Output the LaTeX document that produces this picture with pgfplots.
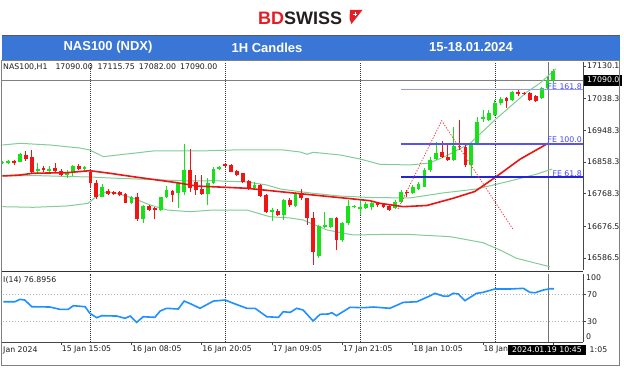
\documentclass[border=0pt]{standalone}
\usepackage{pgfplots}
\pgfplotsset{compat=1.18}
\usepackage{pgfplotstable}
\usepackage{fontspec}
\setmainfont{Liberation Sans}
\newfontfamily\mt{DejaVu Sans}
\definecolor{cg}{RGB}{25,225,25}
\definecolor{cr}{RGB}{240,20,20}
\definecolor{bb}{RGB}{130,205,150}
\definecolor{ma}{RGB}{235,20,20}
\definecolor{hdr}{RGB}{58,118,214}
\definecolor{rsi}{RGB}{30,144,255}
\definecolor{feA}{RGB}{150,150,255}
\definecolor{feB}{RGB}{85,85,235}
\definecolor{feC}{RGB}{35,35,215}
\definecolor{fetxt}{RGB}{70,70,255}
\definecolor{bdred}{RGB}{227,30,36}
\definecolor{logodark}{RGB}{35,31,32}
\definecolor{axisgrey}{RGB}{70,70,70}
\definecolor{labelc}{RGB}{30,30,30}
\definecolor{sepc}{RGB}{50,50,50}

\pgfplotstableread{
x o h l c
0 16854.1 16861.2 16852.7 16858.3
1 16854.7 16864.0 16852.7 16862.0
3 16859.2 16884.7 16858.3 16881.0
6 16833.7 16856.4 16826.4 16839.4
8 16833.7 16847.0 16826.4 16839.4
11 16821.5 16835.7 16812.2 16826.4
12 16826.4 16849.9 16818.7 16847.0
14 16839.4 16847.0 16833.7 16843.3
17 16760.2 16796.1 16758.5 16788.4
22 16741.4 16762.0 16739.4 16760.2
24 16696.1 16736.6 16686.4 16733.8
27 16722.4 16759.2 16720.5 16758.4
28 16758.4 16790.2 16755.6 16779.1
30 16771.7 16801.7 16727.2 16798.0
31 16772.6 16909.3 16764.9 16835.7
35 16767.7 16812.2 16736.6 16798.0
36 16798.0 16845.0 16796.1 16837.7
37 16837.7 16847.0 16835.7 16845.0
43 16783.9 16802.6 16779.1 16793.3
46 16715.9 16727.2 16692.1 16722.4
48 16708.3 16753.6 16694.1 16750.8
50 16733.8 16773.4 16731.8 16771.4
54 16592.3 16680.0 16586.6 16677.2
55 16675.3 16717.6 16670.8 16680.0
56 16675.3 16699.8 16670.8 16699.0
58 16637.5 16689.3 16632.7 16684.8
59 16684.8 16750.8 16680.0 16733.8
60 16730.1 16736.6 16727.2 16733.8
61 16724.4 16750.8 16708.3 16730.1
62 16727.2 16746.0 16724.4 16739.4
63 16731.8 16746.0 16722.4 16741.4
67 16727.2 16750.8 16725.3 16746.0
68 16746.0 16779.1 16741.4 16774.3
70 16769.7 16793.3 16767.7 16786.7
71 16781.1 16802.6 16779.1 16796.1
72 16788.4 16840.5 16786.7 16835.7
73 16835.7 16871.6 16830.9 16864.0
74 16866.0 16915.8 16864.0 16884.7
77 16864.0 16956.6 16862.0 16903.6
80 16849.9 16912.1 16816.7 16909.3
81 16911.2 16986.6 16909.3 16972.4
82 16980.0 17005.6 16971.6 16987.1
83 16977.2 17005.6 16974.4 16997.0
84 16990.0 17033.9 16988.5 17026.2
85 17024.5 17042.4 17019.5 17036.7
87 17033.9 17059.4 17031.1 17055.1
92 17038.7 17069.2 17036.7 17066.9
93 17066.9 17098.9 17064.1 17090.5
94 17089.1 17122.0 17082.0 17115.9
}\greenc

\pgfplotstableread{
x o h l c
2 16862.0 16864.0 16850.7 16856.4
4 16878.2 16890.3 16862.0 16866.0
5 16873.3 16892.3 16826.4 16830.9
7 16840.5 16847.0 16830.9 16835.7
9 16840.5 16854.7 16830.9 16833.7
10 16833.7 16837.7 16818.7 16821.5
13 16847.0 16852.7 16835.7 16837.7
15 16830.9 16835.7 16788.4 16798.0
16 16799.7 16807.4 16754.5 16758.5
18 16776.3 16781.9 16764.9 16767.7
19 16772.6 16776.3 16764.0 16766.9
20 16772.6 16777.1 16762.0 16764.9
21 16767.7 16769.7 16741.4 16743.1
23 16760.2 16769.7 16692.1 16696.1
25 16733.8 16736.6 16718.3 16723.1
26 16727.2 16731.8 16696.1 16721.2
29 16777.1 16779.1 16746.0 16764.9
32 16835.7 16895.1 16773.4 16784.8
33 16801.7 16820.6 16764.9 16779.1
34 16781.1 16820.6 16764.9 16767.7
38 16852.7 16856.4 16843.3 16847.0
39 16849.9 16852.7 16829.2 16830.9
40 16833.7 16835.7 16818.7 16821.5
41 16826.4 16828.1 16798.0 16802.6
42 16805.4 16807.4 16779.1 16781.1
44 16793.3 16796.1 16759.2 16762.0
45 16764.9 16767.7 16713.0 16717.6
47 16720.5 16725.2 16705.5 16708.3
49 16750.8 16755.6 16731.8 16736.6
51 16771.4 16781.1 16750.8 16755.6
52 16755.6 16756.4 16680.0 16699.0
53 16699.0 16717.6 16566.8 16604.5
57 16699.0 16703.5 16609.2 16637.5
64 16743.1 16746.0 16731.8 16737.5
65 16741.4 16743.1 16728.9 16730.1
66 16733.8 16736.6 16718.3 16722.4
69 16774.3 16779.1 16760.2 16769.7
75 16887.5 16918.6 16868.8 16871.6
76 16871.6 16906.4 16862.0 16864.0
78 16903.6 16977.2 16892.3 16899.8
79 16899.8 16909.3 16845.0 16849.9
86 17038.1 17042.4 17011.2 17031.9
88 17055.7 17060.8 17043.8 17050.8
89 17053.7 17056.5 17048.0 17050.8
90 17052.8 17055.1 17031.1 17033.9
91 17045.2 17048.0 17028.2 17031.9
}\redc

\begin{document}
\begin{tikzpicture}[x=1pt,y=1pt]
\fill[white] (0,0) rectangle (624,371);
% header bar
\fill[hdr] (1.5,311) rectangle (620,336);
\draw[gray!70!black, line width=0.6pt] (1.5,336) -- (620,336);
\node[font=\fontsize{13}{15}\selectfont\bfseries, text=white] at (108,323.5) {NAS100 (NDX)};
\node[font=\fontsize{13}{15}\selectfont\bfseries, text=white] at (267,323.5) {1H Candles};
\node[font=\fontsize{13}{15}\selectfont\bfseries, text=white] at (471,323.5) {15-18.01.2024};
% logo
\node[anchor=west, font=\fontsize{18}{20}\selectfont\bfseries, inner sep=0pt] at (258,353) {\textcolor{bdred}{BD}\textcolor{logodark}{SWISS}};
\fill[bdred] (350,361) -- (362.5,361) -- (351.5,347) -- (349.5,352) -- cycle;
\fill[white] (353.2,356.2) rectangle (357.2,357.4);
\fill[white] (354.6,354.8) rectangle (355.8,358.8);

% main price panel
\begin{axis}[
  at={(2pt,101pt)}, anchor=south west, scale only axis,
  width=581pt, height=208pt,
  xmin=-0.085, xmax=99.06, ymin=16552.6, ymax=17141.4,
  axis x line*=bottom, axis y line*=right,
  x axis line style={draw=none}, xtick=\empty,
  y axis line style={draw=axisgrey, line width=0.8pt},
  scaled y ticks=false,
  ytick={17130.1,17038.3,16948.3,16858.3,16768.3,16676.5,16586.5},
  yticklabels={17130.1,17038.3,16948.3,16858.3,16768.3,16676.5,16586.5},
  tick align=outside, major tick length=3pt,
  ytick style={draw=axisgrey, line width=0.6pt},
  yticklabel style={font=\mt\fontsize{7.8}{9}\selectfont, text=labelc, anchor=west, inner sep=0pt, xshift=1pt},
  extra y ticks={17090}, extra y tick labels={17090.0},
  extra y tick style={yticklabel style={fill=black, text=white, inner xsep=3pt, inner ysep=2.5pt, xshift=-3pt}},
  clip=true,
]
% separators
\addplot[sepc, line width=0.9pt, dash pattern=on 1pt off 1pt] coordinates {(14.93,16552.6) (14.93,17141.4)};
\addplot[sepc, line width=0.9pt, dash pattern=on 1pt off 1pt] coordinates {(37.97,16552.6) (37.97,17141.4)};
\addplot[sepc, line width=0.9pt, dash pattern=on 1pt off 1pt] coordinates {(61.0,16552.6) (61.0,17141.4)};
\addplot[sepc, line width=0.9pt, dash pattern=on 1pt off 1pt] coordinates {(84.2,16552.6) (84.2,17141.4)};
% bid line and crosshair
\addplot[gray, line width=0.8pt] coordinates {(-1,17090) (100,17090)};
\addplot[gray!90!black, line width=1pt] coordinates {(93.1,16552.6) (93.1,17141.4)};
% Bollinger bands
\addplot[bb, line width=1pt] coordinates {(0,16906.4) (3,16911.2) (8.1,16906.4) (13.2,16897.9) (14.9,16892.3) (17.2,16873.3) (19.7,16878.2) (22.3,16883.0) (25.7,16889.5) (33.7,16889.5) (39.3,16892.3) (47.9,16892.3) (50.8,16886.6) (52,16880.1) (53,16885.8) (57.6,16878.2) (61,16866.9) (64.4,16851.8) (69.5,16849.9) (72.9,16855.5) (75.7,16875.3) (79.8,16911.2) (84.4,16982.9) (89.5,17056.5) (91.7,17081.1) (94.4,17121.6)};
\addplot[bb, line width=1pt] coordinates {(0,16818.7) (5.2,16820.1) (11,16817.3) (14.9,16815.9) (18.3,16813.1) (25.2,16808.8) (32,16804.5) (35.9,16805.4) (41.7,16801.7) (45.1,16793.3) (47.4,16781.9) (50.8,16774.3) (53,16769.7) (57.6,16762.0) (62.7,16757.8) (69.5,16756.4) (75.1,16770.6) (80.9,16781.9) (86.6,16804.5) (91.2,16824.3) (93.8,16838.5)};
\addplot[bb, line width=1pt] coordinates {(0,16731.8) (5.2,16730.1) (11,16733.8) (14.6,16741.4) (16.1,16762.0) (17.8,16774.3) (19.5,16769.7) (22.3,16755.6) (25.2,16736.6) (28.1,16722.4) (32,16717.6) (35.9,16722.4) (41.7,16722.4) (45.6,16703.5) (49.1,16699.8) (51.3,16694.1) (55.4,16665.8) (59.8,16651.7) (64.4,16653.1) (69.5,16653.1) (76.4,16646.9) (82,16629.9) (84.9,16609.2) (87.7,16585.7) (93.4,16561.9)};
% candles: wicks
\addplot[cg, line width=0.9pt, quiver={u=0, v=\thisrow{h}-\thisrow{l}}] table[x=x, y=l] {\greenc};
\addplot[cr, line width=0.9pt, quiver={u=0, v=\thisrow{h}-\thisrow{l}}] table[x=x, y=l] {\redc};
% candles: bodies
\addplot[cg, line width=3.8pt, quiver={u=0, v=\thisrow{c}-\thisrow{o}}] table[x=x, y=o] {\greenc};
\addplot[cr, line width=3.8pt, quiver={u=0, v=\thisrow{c}-\thisrow{o}}] table[x=x, y=o] {\redc};
% moving average
\addplot[ma, line width=1.6pt] coordinates {(0,16818.7) (3,16821.5) (5.2,16826.4) (11,16828.1) (14.9,16833.7) (18.3,16826.4) (22.3,16816.7) (26.4,16807.4) (29.8,16799.7) (33.1,16790.2) (35.9,16788.3) (41.7,16783.9) (47.4,16774.3) (53,16764.9) (58.7,16755.6) (62.7,16748.8) (64.4,16741.4) (68.4,16731.8) (72.4,16735.2) (76.9,16755.6) (80.6,16774.8) (84.3,16817.3) (88.3,16866.0) (93.1,16911.3)};
% Fibonacci expansion
\addplot[feA, line width=1pt] coordinates {(68,17062.2) (100,17062.2)};
\addplot[feB, line width=2pt] coordinates {(68,16910.0) (100,16910.0)};
\addplot[feC, line width=1.2pt] coordinates {(68,16815.7) (100,16815.7)};
\addplot[cr!80!white, line width=0.8pt, dash pattern=on 1.3pt off 1.5pt] coordinates {(67.5,16725.3) (74.95,16975.3) (87.2,16665.8)};
\node[anchor=base east, font=\mt\fontsize{7.8}{9}\selectfont, text=fetxt, inner sep=0pt] at (axis cs:98.9,17063.0) {FE 161.8};
\node[anchor=base east, font=\mt\fontsize{7.8}{9}\selectfont, text=fetxt, inner sep=0pt] at (axis cs:98.9,16912.3) {FE 100.0};
\node[anchor=base east, font=\mt\fontsize{7.8}{9}\selectfont, text=fetxt, inner sep=0pt] at (axis cs:98.9,16817.0) {FE 61.8};
\end{axis}

% panel separator
\draw[sepc, line width=1.5pt] (2,99.5) -- (583,99.5);

% RSI panel
\begin{axis}[
  at={(2pt,28.8pt)}, anchor=south west, scale only axis,
  width=581pt, height=68.45pt,
  xmin=-0.085, xmax=99.06, ymin=0, ymax=100,
  axis x line*=bottom, axis y line*=right,
  axis line style={draw=axisgrey, line width=0.8pt},
  tick align=outside, major tick length=3pt,
  tick style={draw=axisgrey, line width=0.6pt},
  ytick={70,30}, yticklabels={70,30},
  yticklabel style={font=\mt\fontsize{7.8}{9}\selectfont, text=labelc, anchor=west, inner sep=0pt, xshift=1pt},
  xtick={10,22,34,46,58,70,82,94},
  xticklabels={15 Jan 15:05,16 Jan 08:05,16 Jan 20:05,17 Jan 09:05,17 Jan 21:05,18 Jan 10:05,18 Jan,{}},
  xticklabel style={font=\mt\fontsize{7.8}{9}\selectfont, text=labelc, anchor=north west, inner sep=0pt, xshift=0.5pt, yshift=-0.5pt},
  clip=true,
]
\addplot[gray!60, line width=0.7pt, dash pattern=on 1.5pt off 1.5pt] coordinates {(-1,70) (100,70)};
\addplot[gray!60, line width=0.7pt, dash pattern=on 1.5pt off 1.5pt] coordinates {(-1,30) (100,30)};
\addplot[sepc, line width=0.9pt, dash pattern=on 1pt off 1pt] coordinates {(14.93,0) (14.93,100)};
\addplot[sepc, line width=0.9pt, dash pattern=on 1pt off 1pt] coordinates {(37.97,0) (37.97,100)};
\addplot[sepc, line width=0.9pt, dash pattern=on 1pt off 1pt] coordinates {(61.0,0) (61.0,100)};
\addplot[sepc, line width=0.9pt, dash pattern=on 1pt off 1pt] coordinates {(84.2,0) (84.2,100)};
\addplot[gray!90!black, line width=1pt] coordinates {(93.1,0) (93.1,100)};
\addplot[rsi, line width=1.6pt] coordinates {(0.14,59.1) (2.1,59.1) (3,62.6) (3.8,61.6) (5,51.8) (8.1,51.4) (9.8,48.0) (11.2,48.0) (12.1,53.3) (14.1,51.8) (14.9,42.2) (16.1,35.8) (16.9,38.7) (19.5,38.2) (20.9,34.9) (21.8,38.2) (22.9,29.0) (24,37.2) (26,36.3) (26.9,45.5) (28,49.5) (30,48.5) (31,60.1) (32.3,55.3) (33.7,49.5) (36,60.1) (38,61.6) (39.4,56.8) (41.7,49.5) (43.1,49.5) (45.1,37.2) (47.1,36.3) (47.9,44.5) (49.1,43.6) (50.2,49.5) (51.3,47.0) (53,31.0) (54.2,40.7) (55.6,41.2) (56.2,43.1) (57,38.7) (59.3,51.0) (61.6,50.4) (63.3,51.4) (66.1,49.5) (68.4,58.2) (70.7,59.1) (73,67.9) (73.8,71.4) (75.2,67.4) (76.1,67.4) (76.9,71.4) (77.8,70.4) (78.9,60.6) (80.9,71.4) (82,72.8) (84,77.7) (86.6,77.7) (88.9,78.7) (90,72.8) (90.9,72.3) (92.3,76.2) (93.4,78.1) (94.1,78.1)};
\end{axis}

% texts
\node[anchor=west, font=\mt\fontsize{7.8}{9}\selectfont, text=labelc, inner sep=0pt] at (3,304) {NAS100,H1\hspace{8pt}17090.00\hspace{5pt}17115.75\hspace{4pt}17082.00\hspace{4pt}17090.00};
\node[anchor=west, font=\mt\fontsize{7.8}{9}\selectfont, text=labelc, inner sep=0pt] at (3,91) {I(14) 76.8956};
\node[anchor=west, font=\mt\fontsize{7.8}{9}\selectfont, text=labelc, inner sep=0pt] at (586,93) {100};
\node[anchor=west, font=\mt\fontsize{7.8}{9}\selectfont, text=labelc, inner sep=0pt] at (586,34) {0};
\node[anchor=west, font=\mt\fontsize{7.8}{9}\selectfont, text=labelc, inner sep=0pt] at (3,21) {Jan 2024};
\node[anchor=west, font=\mt\fontsize{7.8}{9}\selectfont, text=white, fill=black, inner xsep=4pt, inner ysep=2.5pt] at (508,21) {2024.01.19 10:45};
\node[anchor=west, font=\mt\fontsize{7.8}{9}\selectfont, text=labelc, inner sep=0pt] at (589.5,21) {1:05};
% frame
\draw[gray, line width=0.8pt] (1.5,6) rectangle (619.5,311);
\end{tikzpicture}
\end{document}
